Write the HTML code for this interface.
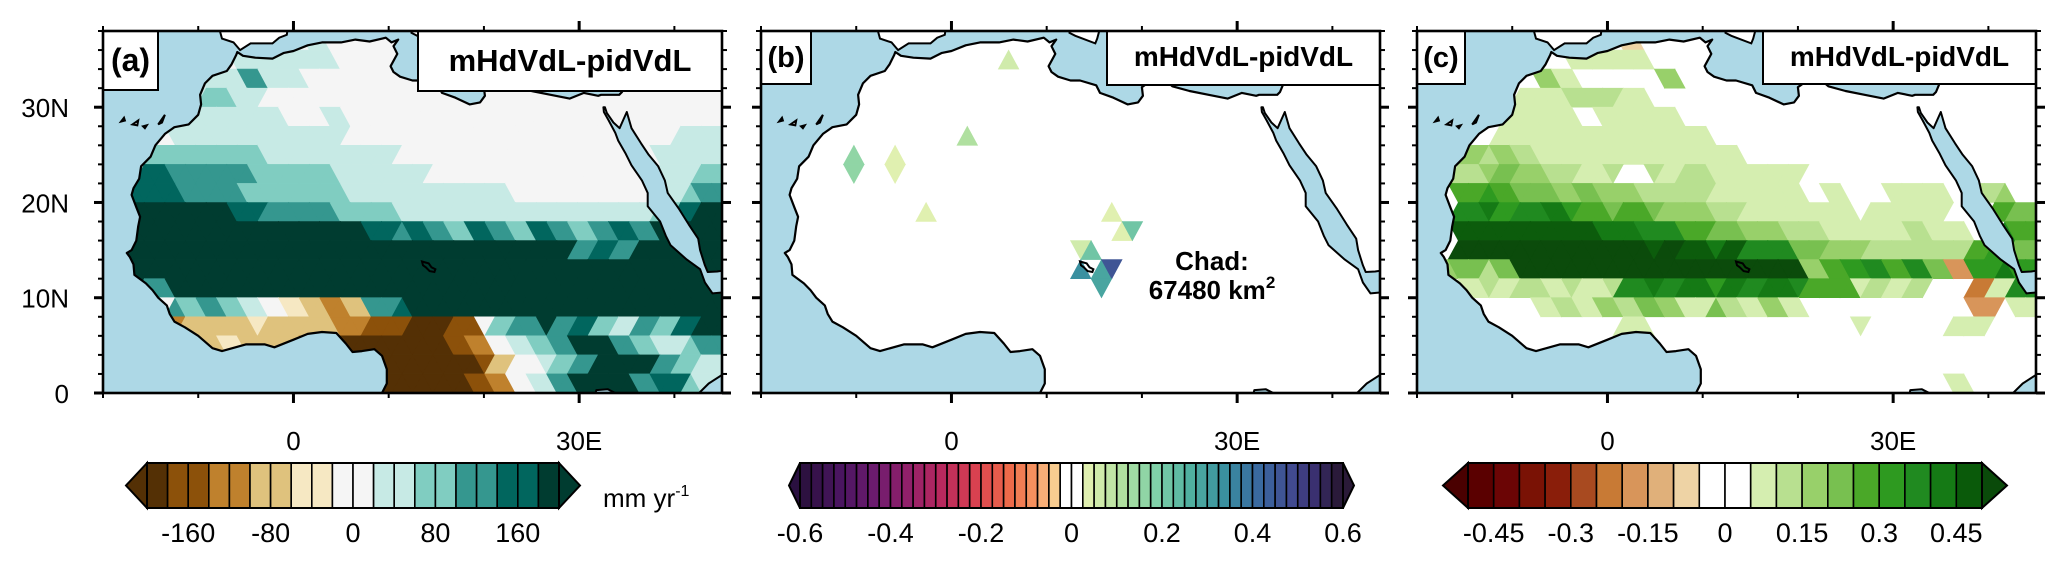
<!DOCTYPE html>
<html><head><meta charset="utf-8"><style>
html,body{margin:0;padding:0;background:#fff;}
svg text{font-family:"Liberation Sans",Arial,sans-serif;}
</style></head><body>
<svg id="fig" xmlns="http://www.w3.org/2000/svg" width="2067" height="561" viewBox="0 0 2067 561"></svg>
<script>
// ---------------- DATA ----------------
// panel (a): level codes per 2-degree latitude band (top = 36-38N), 30 longitude columns (-20..45E)
const aRows = [
"wwwwwwwffwfwwwwwwwwwwwwwwwwwww",
"wwwwwwfffffwwwwwwwwwwwwwwwwwww",
"wwwwwffhffwwwwwwwwwwwwwwwwwwww",
"wwwwfgffwwwwwwwwwwwwwwwwwwwwww",
"wwwffffffwwfwwwwwwwwwwwwwwwwww",
"wwwfffffffffwwwwwwwwwwwwwwwwff",
"wwggggggffffffwwwwwwwwwwwwwfff",
"wwihhhhggggfffffwwwwwwwwwwwffg",
"wiiihhhgggggffffffffwwwwwwwfgh",
"wjjjjjiihhhgggfffffffffffffgij",
"jjjjjjjjjjjjjihihgihgihghihjjj",
"jjjjjjjjjjjjjjjjjjjjjjjhihjjjj",
"jjjjjjjjjjjjjjjjjjjjjjjjjjjjjj",
"jjhjjjjjjjjjjjjjjjjjjjjjjjjjjj",
"jjwhghgfwedcdhijjjjjjjjjjjjjjj",
"dddcdddedddccbbDDbwghjhigfhgij",
"ddddddedddcbDDDDDbcwfghjjhgfgh",
"DDDDDDDDDDDDDDDDDDbdwfghjjjhgf",
"DDDDDDDDDDDDDDDDDDbcwfhjjjhigf"
];
// panel (b): sparse significant cells
const bLon = [6.0, 0.9, -9.2, -5.9, -5.8, -2.5, 17.8, 18.5, 17.9, 13.5, 14.6, 13.8, 15.0, 16.5, 15.8];
const bLat = [34.5, 26.4, 24.0, 24.6, 22.3, 18.9, 18.2, 17.4, 16.1, 14.6, 14.2, 13.0, 12.5, 12.9, 12.0];
const bVal = [0.05, 0.12, 0.15, 0.04, 0.04, 0.04, 0.04, 0.2, 0.04, 0.05, 0.2, 0.35, 0.28, 0.45, 0.3];
// panel (c): level codes
const cRows = [
"..........t...................",
".......1111...................",
"......31....3.................",
".....112221...................",
"....1111.1111.................",
"....1111111111................",
"..32321111111111..............",
"..23432212.21211111...........",
"..56544343322211111.1..111.23.",
"..7867865454332211111.1111..54",
"..9999999887754433221111211.75",
"..XXXXXXXXX9X98977443322222564",
".3424XXXXXXXXXXXXXX3567574p686",
"..12121212787868787551212..o178".slice(0,30),
"......1213243142131........p.1",
"..........1..........1....11..",
"..............................",
"..............................",
"..........................1..."
];
const aTicks = [-160, -80, 0, 80, 160];
const bTicks = [-0.6, -0.4, -0.2, 0, 0.2, 0.4, 0.6];
const cTicks = [-0.45, -0.3, -0.15, 0, 0.15, 0.3, 0.45];
const latTicks = [0, 10, 20, 30];
const latTickLabels = ["0", "10N", "20N", "30N"];
const lonTicks = [0, 30];
const lonTickLabels = ["0", "30E"];

// ---------------- STYLE ----------------
const aColor = {D:"#543005",b:"#8c510a",c:"#bf812d",d:"#dfc27d",e:"#f6e8c3",w:"#f5f5f5",f:"#c7eae5",g:"#80cdc1",h:"#35978f",i:"#01665e",j:"#003c30"};
const cColor = {R:"#5a0000",o:"#c87a35",p:"#d8955a",t:"#eed3a5","1":"#d5eeb0","2":"#b8e090","3":"#98d06a","4":"#78c050","5":"#4aa828","6":"#2e9a20","7":"#208a20","8":"#157a15","9":"#0c5c0c",X:"#0b4b0b"};
const aBar = ["#543005","#8c510a","#8c510a","#bf812d","#bf812d","#dfc27d","#dfc27d","#f6e8c3","#f6e8c3","#f5f5f5","#f5f5f5","#c7eae5","#c7eae5","#80cdc1","#80cdc1","#35978f","#35978f","#01665e","#01665e","#003c30"];
const cBar = ["#5a0000","#6b0505","#7a1205","#8a1e0a","#a84a20","#c87a35","#d8955a","#e0b07a","#eed3a5","#ffffff","#ffffff","#d5eeb0","#b8e090","#98d06a","#78c050","#4aa828","#2e9a20","#208a20","#157a15","#0a5a0a"];
function hex(c){return [1,3,5].map(i=>parseInt(c.substr(i,2),16));}
function mix(c1,c2,t){const a=hex(c1),b=hex(c2);return "#"+a.map((v,i)=>Math.round(v+(b[i]-v)*t).toString(16).padStart(2,"0")).join("");}
const bAnch = [[0,"#2d1140"],[3,"#4a1560"],[6,"#6b1b6e"],[9,"#91206a"],[12,"#b8295e"],[15,"#d94150"],[18,"#ed6a4a"],[20,"#f5905e"],[22,"#f8cc90"],[23,"#ffffff"],[24,"#ffffff"],[25,"#e0f0b0"],[28,"#b0e0a0"],[31,"#80d0a8"],[34,"#50b0a0"],[37,"#3a90a0"],[40,"#3a6aa0"],[43,"#414a90"],[45,"#3a3070"],[47,"#2a1a3a"]];
const bBar = [];
for(let i=0;i<48;i++){for(let k=0;k<bAnch.length-1;k++){const [p0,c0]=bAnch[k],[p1,c1]=bAnch[k+1];if(i>=p0&&i<=p1){bBar.push(mix(c0,c1,p1===p0?0:(i-p0)/(p1-p0)));break;}}}

// ---------------- GEOGRAPHY ----------------
const landMain = [[-5.9,35.8],[-5.3,35.4],[-4,35.2],[-2.2,35.1],[-1,35.7],[0,35.9],[1.5,36.5],[3,36.8],[5,36.8],[6.5,37.1],[8,36.9],[9.7,37.3],[10.3,36.8],[11,37.1],[10.5,36.4],[10.9,35.6],[10.2,34.3],[10.5,33.7],[11.2,33.2],[12.5,32.8],[13.5,32.8],[15.2,32.3],[15.6,31.5],[17,31],[18.5,30.3],[19.6,30.5],[20.1,31.2],[20,32.1],[21,32.8],[22.5,32.8],[23.2,32.2],[25,31.7],[27,31.3],[29,30.9],[30.5,31.5],[32,31.2],[32.3,31.3],[34.2,31.3],[34.5,31.6],[35,32.8],[35.5,33.9],[35.9,35.2],[35.8,36.3],[36.2,36.9],[35.5,36.6],[34.5,36.8],[33.5,36.2],[32.5,36.1],[31,36.8],[30.5,36.4],[29.5,36.2],[28.2,36.7],[27.4,37.0],[27,38],[26.5,39],[50,39],[50,-5],[9.2,-5],[9.3,0],[9.8,1],[9.8,2.5],[9.3,3.9],[8.5,4.6],[7.2,4.4],[6.2,4.3],[5.5,5.2],[4.5,6.3],[3,6.4],[1.5,6.2],[0,5.6],[-2,4.8],[-3,5.1],[-5,5.1],[-7.5,4.4],[-8.5,4.7],[-10,6],[-11.4,6.9],[-12.5,7.5],[-13,8.3],[-13.3,9.2],[-14.2,10],[-14.8,10.8],[-15.5,11.5],[-16.7,12.4],[-16.8,13.5],[-17.2,14.3],[-17.5,14.7],[-17,15],[-16.5,16],[-16.3,17.5],[-16.1,18.5],[-16.5,19.5],[-17,20.8],[-16.8,21.5],[-16.2,22.5],[-16,23.8],[-15,24.8],[-14.5,26],[-13.5,27.2],[-12.5,27.9],[-11,28.2],[-10,29.2],[-9.7,30.3],[-9.8,31.3],[-9.3,32.5],[-8.5,33.3],[-7,33.8],[-6.5,34.5],[-6,35.5]];
const landOther = [
 [[-8,39],[-7.5,37.2],[-6.3,36.8],[-5.6,36.0],[-4.5,36.7],[-2.2,36.7],[-1.5,37.3],[-0.7,37.6],[-0.5,39]],
 [[12.4,37.8],[13,37.5],[15.1,36.7],[15.3,37.2],[15.6,38.3],[15.6,39],[12.4,39]],
 [[21.3,37.9],[21.8,36.8],[22.5,36.4],[23.2,36.4],[23,37.5],[24,38.3],[24,39],[21,39]],
 [[23.5,35.3],[24.5,35.4],[26.3,35.2],[26,35],[24.7,34.9],[23.5,35.1]],
 [[32.3,34.8],[33,34.6],[34,35],[34.6,35.7],[33,35.4],[32.3,35]],
 [[-18.1,28.5],[-17.8,28.9],[-17.7,28.6]],
 [[-16.9,28.2],[-16.3,28.6],[-16.4,28.1]],
 [[-15.8,28.0],[-15.4,28.1],[-15.6,27.8]],
 [[-14.2,28.2],[-13.5,29.2],[-13.8,28.4]]
];
const seas = [
 [[32.55,30.0],[32.6,29.5],[33.1,28.6],[33.8,27.3],[34.1,26.5],[34.9,25.1],[35.5,23.9],[36.6,22.3],[37.2,21],[37.2,19.6],[38.5,18],[39.1,16.5],[39.6,15.5],[41.3,14],[42.7,13],[43.2,11.6],[44,10.45],[45.5,10.6],[45.5,12.9],[44.5,12.75],[43.5,12.7],[43.2,13.4],[42.7,15],[42.5,16.2],[41.5,17.7],[40.5,19.3],[39.3,21],[39,22.3],[38.3,23.8],[37.3,25],[36.5,26.2],[35.5,27.8],[35,29.5],[34.6,28.6],[34.25,27.8],[33.6,28.4],[32.9,29.4],[32.7,30.0]],
 [[42.0,-1],[42.6,0],[43.6,1.0],[45.3,2.1],[46,2.3],[46,-1]],
 [[31.5,-1],[31.8,0.3],[33,0.4],[34,-0.1],[34,-1]]
];
const lakeChad = [[13.5,13.8],[14.2,13.6],[14.5,13.2],[14.9,13],[14.8,12.7],[14.3,12.8],[13.9,13.2],[13.6,13.4]];

// ---------------- DRAW ----------------
const NS="http://www.w3.org/2000/svg";
const svg=document.getElementById("fig");
function el(tag,attrs,parent){const e=document.createElementNS(NS,tag);for(const k in attrs)e.setAttribute(k,attrs[k]);(parent||svg).appendChild(e);return e;}
const TOP=31,BOT=393,PW=619,LON0=-20,LON1=45,LAT1=38;
const panels=[{id:"a",L:103},{id:"b",L:761},{id:"c",L:1417}];
const GW=65/30,GH=2;

function tris(){ // triangular mesh cells in lon/lat
  const out=[];
  for(let r=0;r<19;r++){
    const lt=LAT1-GH*r, lb=lt-GH, off=(r%2)*GW/2;
    for(let m=-1;m<=30;m++){
      const x0=LON0+off+m*GW;
      out.push({r,pts:[[x0,lb],[x0+GW,lb],[x0+GW/2,lt]],cx:x0+GW/2,cy:lb+GH/3});
      out.push({r,pts:[[x0+GW/2,lt],[x0+1.5*GW,lt],[x0+GW,lb]],cx:x0+GW,cy:lt-GH/3});
    }
  }
  return out;
}
function inTri(p,t){const [a,b,c]=t;const s=(p1,p2,p3)=>(p1[0]-p3[0])*(p2[1]-p3[1])-(p2[0]-p3[0])*(p1[1]-p3[1]);
  const d1=s(p,a,b),d2=s(p,b,c),d3=s(p,c,a);const neg=d1<0||d2<0||d3<0,pos=d1>0||d2>0||d3>0;return !(neg&&pos);}
function bColor(v){const i=Math.floor((v+0.6)/0.025);return bBar[Math.max(0,Math.min(47,i))];}

panels.forEach(P=>{
  const L=P.L, R=L+PW;
  const X=lon=>L+(lon-LON0)*PW/(LON1-LON0);
  const Y=lat=>BOT-lat*(BOT-TOP)/LAT1;
  const pstr=arr=>arr.map(p=>X(p[0]).toFixed(1)+","+Y(p[1]).toFixed(1)).join(" ");
  const g=el("g",{});
  
  
  const defs=el("defs",{},g);
  const cp=el("clipPath",{id:"plot"+P.id},defs); el("rect",{x:L,y:TOP,width:PW,height:BOT-TOP},cp);
  const lc=el("clipPath",{id:"land"+P.id},defs); el("polygon",{points:pstr(landMain)},lc);
  const inner=el("g",{"clip-path":"url(#plot"+P.id+")"},g);
  const ocean=el("rect",{x:L,y:TOP,width:PW,height:BOT-TOP,fill:"#add8e6"},inner);
  
  
  const land=el("polygon",{points:pstr(landMain),fill:"#ffffff"},inner);
  
  
  landOther.forEach(pl=>{const e=el("polygon",{points:pstr(pl),fill:"#ffffff"},inner);
    
    });
  const dg=el("g",{"clip-path":"url(#land"+P.id+")"},inner);
  
  
  tris().forEach(t=>{
    let col=null;
    if(P.id==="a"||P.id==="c"){
      const rows=P.id==="a"?aRows:cRows, cmap=P.id==="a"?aColor:cColor;
      let k=Math.floor((t.cx-LON0)/GW); k=Math.max(0,Math.min(29,k));
      const ch=(rows[t.r]||"")[k]; if(ch&&cmap[ch]) col=cmap[ch];
    } else {
      for(let i=0;i<bLon.length;i++){ if(inTri([bLon[i],bLat[i]],t.pts)){col=bColor(bVal[i]);} }
    }
    if(col){const e=el("polygon",{points:pstr(t.pts),fill:col,stroke:col,"stroke-width":0.6},dg);
      
      }
  });
  seas.forEach(s=>{const e=el("polygon",{points:pstr(s),fill:"#add8e6",stroke:"#000","stroke-width":2,"stroke-linejoin":"round"},inner);
    
    });
  const cl=el("polygon",{points:pstr(landMain),fill:"none",stroke:"#000","stroke-width":2.2,"stroke-linejoin":"round"},inner);
  
  
  landOther.forEach(pl=>{const e=el("polygon",{points:pstr(pl),fill:"none",stroke:"#000","stroke-width":2},inner);
    
    });
  const lk=el("polygon",{points:pstr(lakeChad),fill:"none",stroke:"#000","stroke-width":2},inner);
  
  

  // label boxes
  const lbW={a:55,b:50,c:48}[P.id], lbH={a:59,b:53,c:53}[P.id];
  const lb=el("rect",{x:L,y:TOP,width:lbW,height:lbH,fill:"#fff",stroke:"#000","stroke-width":2},g);
  
  
  const lt=el("text",{x:L+lbW/2,y:TOP+(P.id==="a"?40:36),"font-size":P.id==="a"?32:29,"font-weight":"bold","text-anchor":"middle"},g);
  lt.textContent="("+P.id+")";
  
  
  const tbX={a:418,b:1107,c:1763}[P.id], tbH={a:60,b:54,c:53}[P.id];
  const tb=el("rect",{x:tbX,y:TOP,width:R-tbX,height:tbH,fill:"#fff",stroke:"#000","stroke-width":2},g);
  
  
  const tt=el("text",{x:(tbX+R)/2,y:TOP+(P.id==="a"?40:35),"font-size":P.id==="a"?31:28,"font-weight":"bold","text-anchor":"middle"},g);
  tt.textContent="mHdVdL-pidVdL";
  
  

  // frame
  const fr=el("rect",{x:L,y:TOP,width:PW,height:BOT-TOP,fill:"none",stroke:"#000","stroke-width":2.6},g);
  
  
  // ticks
  for(let lat=0;lat<=38;lat+=2){const len=lat%10===0?9:5,y=Y(lat);
    el("line",{x1:L,x2:L-len,y1:y,y2:y,stroke:"#000","stroke-width":lat%10===0?3:2},g);
    el("line",{x1:R,x2:R+len,y1:y,y2:y,stroke:"#000","stroke-width":lat%10===0?3:2},g);}
  for(let lon=-20;lon<=40;lon+=10){const maj=lonTicks.includes(lon),len=maj?10:5,x=X(lon);
    el("line",{x1:x,x2:x,y1:TOP,y2:TOP-len,stroke:"#000","stroke-width":maj?3:2},g);
    el("line",{x1:x,x2:x,y1:BOT,y2:BOT+len,stroke:"#000","stroke-width":maj?3:2},g);}
  lonTicks.forEach((lon,i)=>{const t=el("text",{x:X(lon),y:450,"font-size":26,"text-anchor":"middle"},g);
    t.textContent=lonTickLabels[i];
    
    });
  if(P.id==="a"){latTicks.forEach((lat,i)=>{const t=el("text",{x:69,y:Y(lat)+10,"font-size":26,"text-anchor":"end"},g);
    t.textContent=latTickLabels[i];
    
    });}
});

// Chad annotation
const ch1=el("text",{x:1212,y:270,"font-size":26,"font-weight":"bold","text-anchor":"middle"});
ch1.textContent="Chad:";


const ch2=el("text",{x:1212,y:299,"font-size":26,"font-weight":"bold","text-anchor":"middle"});
ch2.innerHTML='67480 km<tspan dy="-11" font-size="17">2</tspan>';



// colorbars
function colorbar(name,x0,x1,tipL,tipR,colors,lTip,rTip,vmin,vmax,ticks){
  const g=el("g",{});
  
  
  const y0=463,y1=508,ym=(y0+y1)/2,n=colors.length,bw=(x1-x0)/n;
  el("polygon",{points:`${x0},${y0} ${tipL},${ym} ${x0},${y1}`,fill:lTip,stroke:"#000","stroke-width":2},g);
  el("polygon",{points:`${x1},${y0} ${tipR},${ym} ${x1},${y1}`,fill:rTip,stroke:"#000","stroke-width":2},g);
  colors.forEach((c,i)=>{const r=el("rect",{x:x0+i*bw,y:y0,width:bw,height:y1-y0,fill:c,stroke:"#000","stroke-width":1.6},g);
    
    });
  el("rect",{x:x0,y:y0,width:x1-x0,height:y1-y0,fill:"none",stroke:"#000","stroke-width":2},g);
  ticks.forEach(v=>{const t=el("text",{x:x0+(v-vmin)/(vmax-vmin)*(x1-x0),y:542,"font-size":27,"text-anchor":"middle"},g);
    t.textContent=String(v);
    
    });
}
colorbar("colorbar-a",147,559,126,580,aBar,"#543005","#003c30",-200,200,aTicks);
colorbar("colorbar-b",800,1343,789,1354,bBar,"#2a1040","#2a1a38",-0.6,0.6,bTicks);
colorbar("colorbar-c",1468,1982,1443,2007,cBar,"#4a0000","#0a4a0a",-0.5,0.5,cTicks);
const un=el("text",{x:603,y:507,"font-size":26});
un.innerHTML='mm yr<tspan dy="-11" font-size="16">-1</tspan>';


</script>
</body></html>
